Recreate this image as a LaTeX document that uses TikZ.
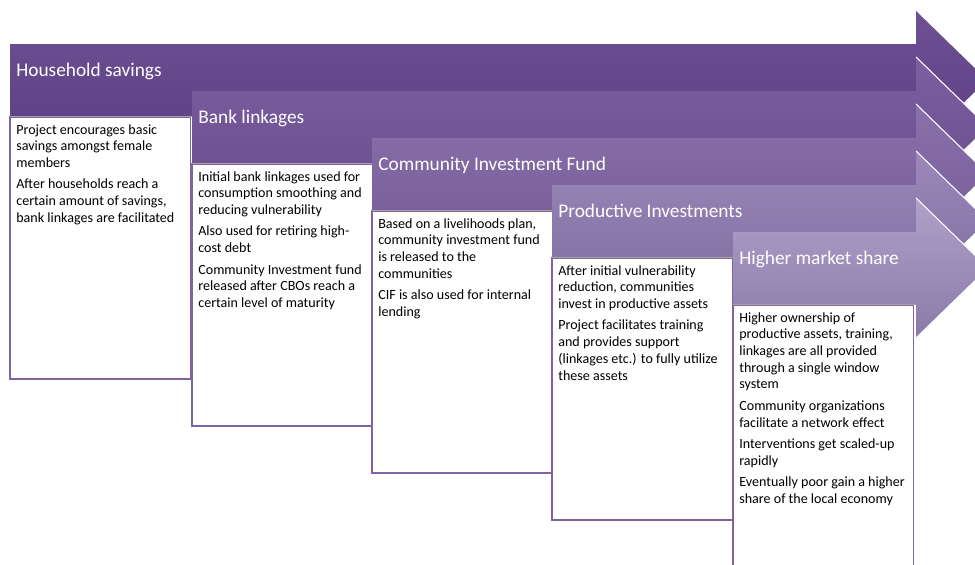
\documentclass[tikz,border=0pt]{standalone}
\usepackage{fontspec}
\setmainfont{Carlito}
\definecolor{boxline}{HTML}{8064A2}
\definecolor{shadeline}{HTML}{A6A6A6}
\definecolor{arrAtop}{HTML}{6E5095}
\definecolor{arrAbot}{HTML}{5C3F82}
\definecolor{arrBtop}{HTML}{7C5FA0}
\definecolor{arrBbot}{HTML}{694D8D}
\definecolor{arrCtop}{HTML}{8A71AA}
\definecolor{arrCbot}{HTML}{755C97}
\definecolor{arrDtop}{HTML}{9C89BA}
\definecolor{arrDbot}{HTML}{806DA0}
\definecolor{arrEtop}{HTML}{AFA1CA}
\definecolor{arrEbot}{HTML}{8A7AA8}
\begin{document}
\begin{tikzpicture}[x=0.02cm, y=-0.02cm,
    hdr/.style={anchor=base west, inner sep=0pt, text=white, font=\fontsize{11}{13}\selectfont},
    infobox/.style={draw=boxline, line width=0.8pt, fill=white, anchor=north west,
        minimum width=3.61cm, minimum height=5.24cm, inner sep=0pt, outer sep=0pt},
    txt/.style={anchor=base west, inner sep=0pt, font=\fontsize{8}{9.5}\selectfont,
        execute at begin node={\begin{minipage}[t]{3.7cm}\raggedright},
        execute at end node={\end{minipage}}},
    headedge/.style={draw=white, line width=0.6pt},
    bodyedge/.style={draw=shadeline, line width=0.8pt}]
    \useasboundingbox (0,0) rectangle (975,565);
    \clip (0,0) rectangle (975,565);
    % household savings
    \shade[top color=arrAtop, bottom color=arrAbot] (10,44) -- (916,44) -- (916,10) -- (988,80) -- (916,150) -- (916,116) -- (10,116) -- cycle;
    \draw[headedge] (916,10) -- (988,80) -- (916,150);
    \node[hdr] (h1) at (16,76) {Household savings};
    \node[infobox] (b1) at (10,117) {};
    \draw[bodyedge] (10,116.5) -- (916,116.5);
    \node[txt] (t1) at (16,134) {Project encourages basic\\ savings amongst female\\ members\\[2.8pt]
        After households reach a\\ certain amount of savings,\\ bank linkages are facilitated};
    % bank linkages
    \shade[top color=arrBtop, bottom color=arrBbot] (192,91) -- (916,91) -- (916,57) -- (988,127) -- (916,197) -- (916,163) -- (192,163) -- cycle;
    \draw[headedge] (916,57) -- (988,127) -- (916,197);
    \node[hdr] (h2) at (198,123) {Bank linkages};
    \node[infobox] (b2) at (192,164) {};
    \draw[bodyedge] (192,163.5) -- (916,163.5);
    \node[txt] (t2) at (198,181) {Initial bank linkages used for\\ consumption smoothing and\\ reducing vulnerability\\[2.8pt]
        Also used for retiring high-\\ cost debt\\[2.8pt]
        Community Investment fund\\ released after CBOs reach a\\ certain level of maturity};
    % community investment fund
    \shade[top color=arrCtop, bottom color=arrCbot] (372,138) -- (916,138) -- (916,104) -- (988,174) -- (916,244) -- (916,210) -- (372,210) -- cycle;
    \draw[headedge] (916,104) -- (988,174) -- (916,244);
    \node[hdr] (h3) at (378,170) {Community Investment Fund};
    \node[infobox] (b3) at (372,211) {};
    \draw[bodyedge] (372,210.5) -- (916,210.5);
    \node[txt] (t3) at (378,228) {Based on a livelihoods plan,\\ community investment fund\\ is released to the\\ communities\\[2.8pt]
        CIF is also used for internal\\ lending};
    % productive investments
    \shade[top color=arrDtop, bottom color=arrDbot] (552,185) -- (916,185) -- (916,151) -- (988,221) -- (916,291) -- (916,257) -- (552,257) -- cycle;
    \draw[headedge] (916,151) -- (988,221) -- (916,291);
    \node[hdr] (h4) at (558,217) {Productive Investments};
    \node[infobox] (b4) at (552,258) {};
    \draw[bodyedge] (552,257.5) -- (916,257.5);
    \node[txt] (t4) at (558,275) {After initial vulnerability\\ reduction, communities\\ invest in productive assets\\[2.8pt]
        Project facilitates training\\ and provides support\\ (linkages etc.) to fully utilize\\ these assets};
    % higher market share
    \shade[top color=arrEtop, bottom color=arrEbot] (733,232) -- (916,232) -- (916,198) -- (988,268) -- (916,338) -- (916,304) -- (733,304) -- cycle;
    \draw[headedge] (916,198) -- (988,268) -- (916,338);
    \node[hdr] (h5) at (739,264) {Higher market share};
    \node[infobox, minimum height=5.5cm] (b5) at (733,305) {};
    \draw[bodyedge] (733,304.5) -- (916,304.5);
    \node[txt] (t5) at (739,322) {Higher ownership of\\ productive assets, training,\\ linkages are all provided\\ through a single window\\ system\\[2.8pt]
        Community organizations\\ facilitate a network effect\\[2.8pt]
        Interventions get scaled-up\\ rapidly\\[2.8pt]
        Eventually poor gain a higher\\ share of the local economy};
\end{tikzpicture}
\end{document}
